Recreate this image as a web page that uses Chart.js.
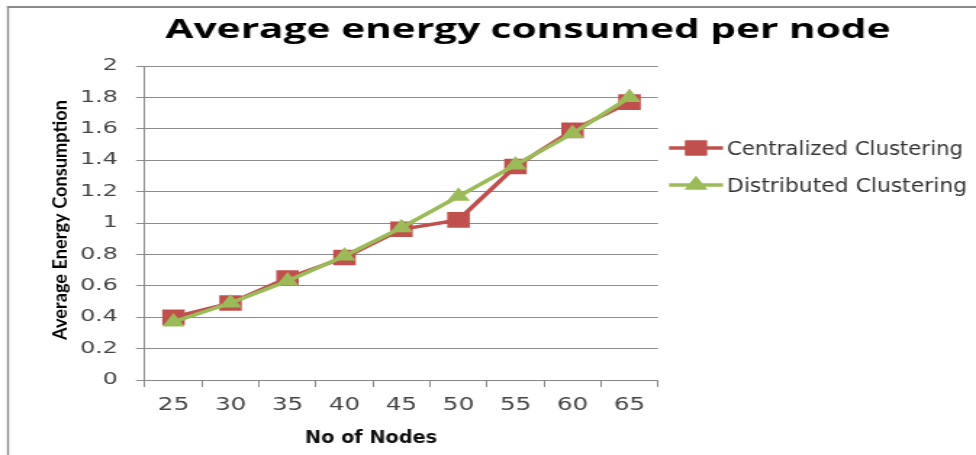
<!DOCTYPE html>
<html>
<head>
<meta charset="utf-8">
<style>
  html, body { margin: 0; padding: 0; background: #fff; overflow: hidden; }
  #wrap { position: relative; width: 673px; height: 455px; transform-origin: 0 0; }
</style>
<script src="https://cdn.jsdelivr.net/npm/chart.js@4.4.0/dist/chart.umd.min.js"></script>
</head>
<body>
<div id="wrap"><canvas id="c" width="673" height="455"></canvas></div>
<script>
// Number of nodes in the network
const nodeCounts = ['25', '30', '35', '40', '45', '50', '55', '60', '65'];
// Average energy consumed per node for each scheme
const centralized = [0.40, 0.49, 0.65, 0.78, 0.96, 1.02, 1.36, 1.59, 1.77];
const distributed = [0.37, 0.49, 0.63, 0.79, 0.97, 1.17, 1.37, 1.57, 1.80];
const seriesNames = ['Centralized Clustering', 'Distributed Clustering'];
const titleText = 'Average energy consumed per node';
const yTitle = 'Average Energy Consumption';
const xTitle = 'No of Nodes';

const RED = '#C0504D';
const GREEN = '#9BBB59';

// The drawing is laid out on a narrower canvas and widened horizontally.
const PAGE_W = 976;
const CANVAS_W = 673;
const S = PAGE_W / CANVAS_W;
document.getElementById('wrap').style.transform = `scaleX(${S})`;
const cx = (v) => v / S;   // page x -> canvas x

// Draw text so that it spans a given page width (horizontal text)
function fitText(ctx, text, font, xPage, yBase, widthPage, align) {
  ctx.save();
  ctx.font = font;
  const w = ctx.measureText(text).width;
  const k = cx(widthPage) / w;
  ctx.textBaseline = 'alphabetic';
  ctx.textAlign = 'left';
  const startX = align === 'left' ? cx(xPage) : cx(xPage) - cx(widthPage) / 2;
  ctx.translate(startX, yBase);
  ctx.scale(k, 1);
  ctx.fillText(text, 0, 0);
  ctx.restore();
}

// Frame, titles and the line-with-marker legend
const decorations = {
  id: 'decorations',
  afterDraw(chart) {
    const ctx = chart.ctx;
    ctx.save();
    // frame (left and top edges)
    ctx.fillStyle = '#8a8a8a';
    ctx.fillRect(cx(7), 6, cx(2), 455);
    ctx.fillRect(cx(7), 6, CANVAS_W, 2);

    // main title
    ctx.fillStyle = '#000';
    fitText(ctx, titleText, 'bold 27px "Open Sans", Lato, sans-serif', 528, 38, 725);

    // y axis title (rotated, runs bottom to top)
    ctx.save();
    ctx.font = 'bold 14px Lato, "Open Sans", sans-serif';
    const yl = ctx.measureText(yTitle).width;
    ctx.translate(cx(67), 220);
    ctx.rotate(-Math.PI / 2);
    ctx.scale(240 / yl, 1);
    ctx.textAlign = 'center';
    ctx.textBaseline = 'alphabetic';
    ctx.fillText(yTitle, 0, 0);
    ctx.restore();

    // x axis title
    ctx.fillStyle = '#111';
    fitText(ctx, xTitle, 'bold 17.5px "DejaVu Sans", sans-serif', 371, 443, 132);

    // legend
    const items = [
      { y: 148, color: RED, style: 'rect', r: 10.6 },
      { y: 185, color: GREEN, style: 'triangle', r: 9 }
    ];
    items.forEach((it, i) => {
      ctx.strokeStyle = it.color;
      ctx.lineWidth = 3.5;
      ctx.beginPath();
      ctx.moveTo(cx(669), it.y);
      ctx.lineTo(cx(723), it.y);
      ctx.stroke();
      ctx.fillStyle = it.color;
      Chart.helpers.drawPoint(ctx, { pointStyle: it.style, radius: it.r, rotation: 0, borderWidth: 0 }, cx(696), it.y);
      ctx.fill();
      ctx.fillStyle = '#333';
      fitText(ctx, seriesNames[i], '19px "DejaVu Sans", sans-serif', 727, it.y + 7, i === 0 ? 236 : 240, 'left');
    });
    ctx.restore();
  }
};

new Chart(document.getElementById('c'), {
  type: 'line',
  data: {
    labels: nodeCounts,
    datasets: [
      {
        label: seriesNames[0],
        data: centralized,
        borderColor: RED,
        backgroundColor: RED,
        borderWidth: 3.5,
        pointStyle: 'rect',
        pointRadius: 11,
        pointBorderWidth: 0,
        tension: 0,
        order: 1
      },
      {
        label: seriesNames[1],
        data: distributed,
        borderColor: GREEN,
        backgroundColor: GREEN,
        borderWidth: 3.5,
        pointStyle: 'triangle',
        pointRadius: 9,
        pointBorderWidth: 0,
        tension: 0,
        order: 0
      }
    ]
  },
  options: {
    responsive: false,
    animation: false,
    layout: { padding: { left: 0, top: 66, right: CANVAS_W - cx(658), bottom: 0 } },
    plugins: {
      legend: { display: false },
      tooltip: { enabled: false },
      title: { display: false }
    },
    scales: {
      x: {
        offset: true,
        grid: {
          offset: true,
          drawOnChartArea: false,
          drawTicks: true,
          tickLength: 7,
          color: '#888'
        },
        border: { color: '#888', width: 1 },
        ticks: {
          color: '#444',
          font: { family: '"DejaVu Sans", sans-serif', size: 17 },
          padding: 8
        },
        afterFit(scale) { scale.height = 75; }
      },
      y: {
        min: 0,
        max: 2,
        grid: {
          color: '#8c8c8c',
          lineWidth: 1,
          drawTicks: true,
          tickLength: cx(9)
        },
        border: { color: '#888', width: 1 },
        ticks: {
          stepSize: 0.2,
          color: '#444',
          font: { family: '"DejaVu Sans", sans-serif', size: 16.5 },
          padding: cx(18),
          callback: (v) => Math.round(v * 10) / 10
        },
        afterFit(scale) { scale.width = cx(145); }
      }
    }
  },
  plugins: [decorations]
});
</script>
</body>
</html>
